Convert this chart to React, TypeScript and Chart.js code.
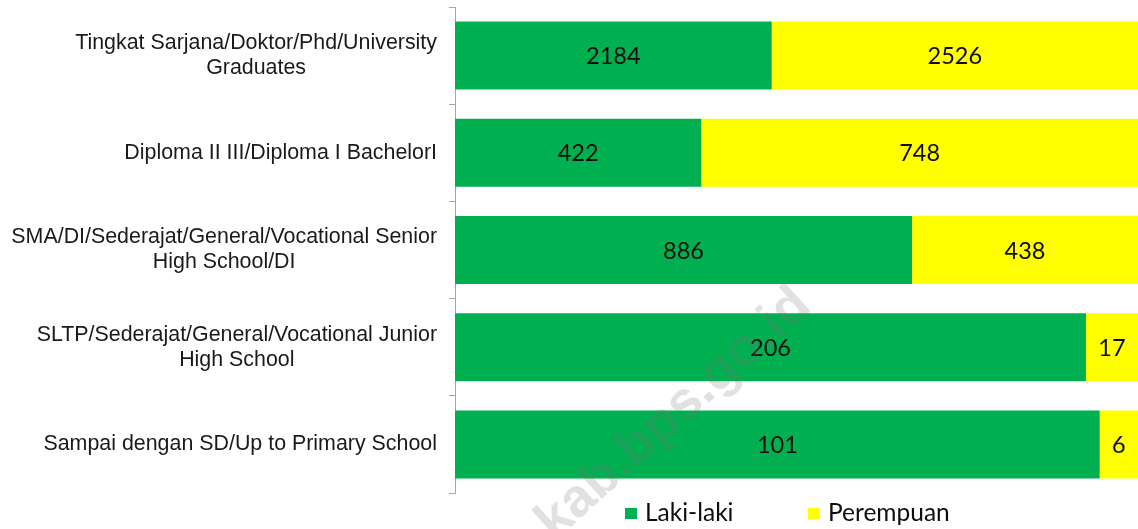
import React, { useEffect, useRef } from "react";
import { Chart, registerables } from "chart.js";

Chart.register(...registerables);

const categories: string[][] = [
  ["Tingkat Sarjana/Doktor/Phd/University", "Graduates"],
  ["Diploma II III/Diploma I BachelorI"],
  ["SMA/DI/Sederajat/General/Vocational Senior", "High School/DI"],
  ["SLTP/Sederajat/General/Vocational Junior", "High School"],
  ["Sampai dengan SD/Up to Primary School"],
];
const lakiLaki = [2184, 422, 886, 206, 101];
const perempuan = [2526, 748, 438, 17, 6];
const seriesNames = ["Laki-laki", "Perempuan"];
const seriesColors = ["#00B050", "#FFFF00"];
const watermarkText = "kab.bps.go.id";

const totals = lakiLaki.map((v, i) => v + perempuan[i]);
const lakiPct = lakiLaki.map((v, i) => (v / totals[i]) * 100);
const perPct = perempuan.map((v, i) => (v / totals[i]) * 100);
const rawValues = [lakiLaki, perempuan];

const labelFont = "21.4px 'Liberation Sans', Arial, sans-serif";
const valueFont = "23.5px Lato, sans-serif";
const legendFont = "24.5px Lato, sans-serif";

const customPlugin = {
  id: "custom",
  afterDatasetsDraw(chart: any) {
    const ctx = chart.ctx;
    ctx.save();
    ctx.font = valueFont;
    ctx.fillStyle = "#0d0d0d";
    ctx.textAlign = "center";
    ctx.textBaseline = "middle";
    chart.data.datasets.forEach((ds: any, di: number) => {
      const meta = chart.getDatasetMeta(di);
      meta.data.forEach((bar: any, i: number) => {
        const cx = (bar.x + bar.base) / 2;
        ctx.fillText(String(rawValues[di][i]), cx, bar.y + 1);
      });
    });
    ctx.restore();
  },
  afterDraw(chart: any) {
    const ctx = chart.ctx;
    const yScale = chart.scales.y;
    const area = chart.chartArea;
    ctx.save();
    ctx.font = labelFont;
    ctx.fillStyle = "#1a1a1a";
    ctx.textAlign = "center";
    ctx.textBaseline = "middle";
    const lineH = 25;
    const rightEdge = area.left - 18;
    categories.forEach((lines, i) => {
      const y = yScale.getPixelForValue(i);
      const w = Math.max(...lines.map((l) => ctx.measureText(l).width));
      const cx = rightEdge - w / 2;
      const startY = y - ((lines.length - 1) * lineH) / 2;
      lines.forEach((l, li) => ctx.fillText(l, cx, startY + li * lineH));
    });
    // legend
    ctx.font = legendFont;
    ctx.textAlign = "left";
    ctx.textBaseline = "middle";
    const legendX = [625, 808];
    const legendY = 513;
    seriesNames.forEach((name, i) => {
      ctx.fillStyle = seriesColors[i];
      ctx.fillRect(legendX[i], legendY - 5, 12, 11);
      ctx.fillStyle = "#0d0d0d";
      ctx.fillText(name, legendX[i] + 20, legendY);
    });
    // watermark
    ctx.translate(684, 425);
    ctx.rotate((-42 * Math.PI) / 180);
    ctx.font = "bold 54px 'Liberation Sans', Arial, sans-serif";
    ctx.fillStyle = "rgba(120,120,120,0.22)";
    ctx.textAlign = "center";
    ctx.textBaseline = "alphabetic";
    ctx.fillText(watermarkText, 0, 0);
    ctx.restore();
  },
};

export default function App() {
  const canvasRef = useRef<HTMLCanvasElement | null>(null);

  useEffect(() => {
    if (!canvasRef.current) return;
    const chart = new Chart(canvasRef.current, {
      type: "bar",
      data: {
        labels: categories.map((c) => c.join(" ")),
        datasets: [
          {
            label: seriesNames[0],
            data: lakiPct,
            backgroundColor: seriesColors[0],
            barPercentage: 0.7,
            categoryPercentage: 1,
          },
          {
            label: seriesNames[1],
            data: perPct,
            backgroundColor: seriesColors[1],
            barPercentage: 0.7,
            categoryPercentage: 1,
          },
        ],
      },
      options: {
        indexAxis: "y",
        responsive: false,
        animation: false,
        layout: { padding: { top: 7, bottom: 36, left: 0, right: 0 } },
        plugins: {
          legend: { display: false },
          tooltip: { enabled: false },
        },
        scales: {
          x: { display: false, stacked: true, min: 0, max: 100 },
          y: {
            stacked: true,
            position: "left",
            offset: true,
            grid: {
              display: true,
              drawOnChartArea: false,
              drawTicks: true,
              tickLength: 6,
              color: "#a6a6a6",
              offset: true,
            },
            border: { display: true, color: "#a6a6a6", width: 1 },
            ticks: { display: false },
            afterFit: (scale: any) => {
              scale.width = 455;
            },
          },
        },
      },
      plugins: [customPlugin],
    });
    return () => chart.destroy();
  }, []);

  return (
    <div style={{ position: "absolute", left: 0, top: 0, width: 1138, height: 529, background: "#fff" }}>
      <canvas ref={canvasRef} width={1138} height={529} />
    </div>
  );
}
